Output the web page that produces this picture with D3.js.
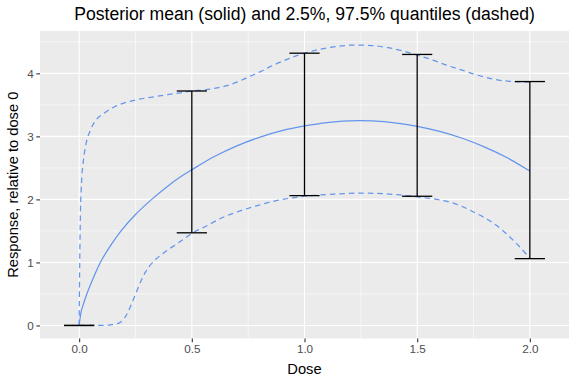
<!DOCTYPE html>
<html>
<head>
<meta charset="utf-8">
<script src="https://cdn.jsdelivr.net/npm/d3@7"></script>
<style>
  body { margin: 0; background: #fff; }
  svg { display: block; font-family: "Liberation Sans", Arial, sans-serif; }
</style>
</head>
<body>
<div id="chart"></div>
<script>
// DATA
const titleText = "Posterior mean (solid) and 2.5%, 97.5% quantiles (dashed)";
const xTicks = [0, 0.5, 1, 1.5, 2];
const yTicks = [0, 1, 2, 3, 4];

// posterior mean curve
const meanDose = [0, 0.009, 0.02, 0.034, 0.06, 0.094, 0.14, 0.186, 0.25, 0.322, 0.4, 0.45, 0.5, 0.6, 0.7, 0.8, 0.9, 1.0, 1.1, 1.2, 1.25, 1.3, 1.4, 1.5, 1.6, 1.7, 1.8, 1.9, 2.0];
const meanResp = [0, 0.22, 0.35, 0.5, 0.73, 1.0, 1.27, 1.5, 1.76, 2.0, 2.23, 2.36, 2.47, 2.68, 2.85, 2.985, 3.09, 3.165, 3.22, 3.246, 3.25, 3.245, 3.215, 3.16, 3.08, 2.97, 2.83, 2.66, 2.45];

// 2.5% quantile
const lowDose = [0, 0.06, 0.1, 0.14, 0.171, 0.2, 0.215, 0.23, 0.253, 0.275, 0.295, 0.312, 0.34, 0.364, 0.39, 0.423, 0.46, 0.5, 0.56, 0.641, 0.7, 0.789, 0.85, 0.937, 1.0, 1.114, 1.247, 1.425, 1.5, 1.602, 1.661, 1.75, 1.839, 1.927, 1.984, 2.0];
const lowResp = [0, 0, 0.002, 0.01, 0.03, 0.11, 0.2, 0.32, 0.52, 0.71, 0.85, 0.94, 1.05, 1.12, 1.19, 1.27, 1.36, 1.46, 1.57, 1.72, 1.80, 1.90, 1.96, 2.02, 2.05, 2.08, 2.10, 2.07, 2.04, 1.99, 1.94, 1.80, 1.62, 1.35, 1.13, 1.06];

// 97.5% quantile
const upDose = [0, 0.002, 0.004, 0.006, 0.009, 0.012, 0.019, 0.031, 0.05, 0.075, 0.112, 0.157, 0.208, 0.267, 0.334, 0.408, 0.467, 0.5, 0.55, 0.6, 0.65, 0.7, 0.75, 0.8, 0.85, 0.9, 0.95, 1.0, 1.06, 1.13, 1.23, 1.33, 1.42, 1.5, 1.57, 1.63, 1.7, 1.77, 1.85, 1.92, 2.0];
const upResp = [0, 0.8, 1.4, 1.85, 2.15, 2.36, 2.62, 2.89, 3.10, 3.26, 3.37, 3.47, 3.54, 3.59, 3.63, 3.67, 3.70, 3.72, 3.735, 3.76, 3.80, 3.86, 3.94, 4.02, 4.11, 4.19, 4.26, 4.32, 4.375, 4.42, 4.45, 4.43, 4.37, 4.29, 4.21, 4.13, 4.05, 3.97, 3.90, 3.87, 3.86];

// error bars at observed doses
const barDose  = [0, 0.5, 1, 1.5, 2];
const barLower = [0, 1.47, 2.06, 2.05, 1.06];
const barUpper = [0, 3.72, 4.32, 4.30, 3.87];
const barHalfWidth = 0.067;

// LAYOUT
const width  = 576;
const height = 384;
const panel  = { left: 40, right: 569, top: 31, bottom: 338.5 };
const curveColor = "#6495ED";

function expand(lo, hi) {
    const pad = (hi - lo) * 0.05;
    return [lo - pad, hi + pad];
}

function render() {
    const x = d3.scaleLinear()
        .domain(expand(d3.min(barDose) - barHalfWidth, d3.max(barDose) + barHalfWidth))
        .range([panel.left, panel.right]);
    const y = d3.scaleLinear()
        .domain([-0.207, 4.672])
        .range([panel.bottom, panel.top]);

    const svg = d3.select('#chart').append('svg')
        .attr('width', width)
        .attr('height', height);

    svg.append('rect')
        .attr('x', panel.left).attr('y', panel.top)
        .attr('width', panel.right - panel.left)
        .attr('height', panel.bottom - panel.top)
        .attr('fill', '#EBEBEB');

    // grid
    const grid = svg.append('g');
    const xMinor = d3.range(-0.25, 2.3, 0.5).filter(d => x(d) > panel.left && x(d) < panel.right);
    const yMinor = d3.range(-0.5, 4.7, 1).filter(d => y(d) < panel.bottom && y(d) > panel.top);

    grid.selectAll('line.xminor').data(xMinor).enter().append('line')
        .attr('x1', d => x(d)).attr('x2', d => x(d))
        .attr('y1', panel.top).attr('y2', panel.bottom)
        .attr('stroke', '#fff').attr('stroke-width', 0.55);
    grid.selectAll('line.yminor').data(yMinor).enter().append('line')
        .attr('y1', d => y(d)).attr('y2', d => y(d))
        .attr('x1', panel.left).attr('x2', panel.right)
        .attr('stroke', '#fff').attr('stroke-width', 0.55);
    grid.selectAll('line.xmajor').data(xTicks).enter().append('line')
        .attr('x1', d => x(d)).attr('x2', d => x(d))
        .attr('y1', panel.top).attr('y2', panel.bottom)
        .attr('stroke', '#fff').attr('stroke-width', 1.1);
    grid.selectAll('line.ymajor').data(yTicks).enter().append('line')
        .attr('y1', d => y(d)).attr('y2', d => y(d))
        .attr('x1', panel.left).attr('x2', panel.right)
        .attr('stroke', '#fff').attr('stroke-width', 1.1);

    // curves
    const smoothLine = d3.line()
        .x(d => x(d[0]))
        .y(d => y(d[1]))
        .curve(d3.curveCatmullRom.alpha(0.5));
    const monoLine = d3.line()
        .x(d => x(d[0]))
        .y(d => y(d[1]))
        .curve(d3.curveMonotoneX);

    const series = [
        { pts: d3.zip(meanDose, meanResp), dash: null, gen: smoothLine },
        { pts: d3.zip(lowDose, lowResp), dash: '5.5,4', gen: monoLine },
        { pts: d3.zip(upDose, upResp), dash: '5.5,4', gen: monoLine }
    ];

    svg.append('g').selectAll('path').data(series).enter().append('path')
        .attr('d', d => d.gen(d.pts))
        .attr('fill', 'none')
        .attr('stroke', curveColor)
        .attr('stroke-width', 1.25)
        .attr('stroke-dasharray', d => d.dash);

    // error bars
    const bars = svg.append('g')
        .selectAll('g')
        .data(d3.range(barDose.length))
        .enter().append('g')
        .attr('stroke', '#000')
        .attr('stroke-width', 1.3);

    bars.append('line')
        .attr('x1', i => x(barDose[i])).attr('x2', i => x(barDose[i]))
        .attr('y1', i => y(barLower[i])).attr('y2', i => y(barUpper[i]));
    bars.append('line')
        .attr('x1', i => x(barDose[i] - barHalfWidth)).attr('x2', i => x(barDose[i] + barHalfWidth))
        .attr('y1', i => y(barLower[i])).attr('y2', i => y(barLower[i]));
    bars.append('line')
        .attr('x1', i => x(barDose[i] - barHalfWidth)).attr('x2', i => x(barDose[i] + barHalfWidth))
        .attr('y1', i => y(barUpper[i])).attr('y2', i => y(barUpper[i]));

    // axes
    const xAxis = svg.append('g')
        .attr('transform', `translate(0,${panel.bottom})`)
        .call(d3.axisBottom(x).tickValues(xTicks).tickFormat(d3.format('.1f')).tickSize(3.7).tickPadding(2.5));
    const yAxis = svg.append('g')
        .attr('transform', `translate(${panel.left},0)`)
        .call(d3.axisLeft(y).tickValues(yTicks).tickFormat(d3.format('d')).tickSize(3.7).tickPadding(2.5));

    [xAxis, yAxis].forEach(ax => {
        ax.select('.domain').remove();
        ax.selectAll('line').attr('stroke', '#333333').attr('stroke-width', 1.1);
        ax.selectAll('text')
            .attr('fill', '#4D4D4D')
            .style('font-size', '11.7px')
            .style('font-family', '"Liberation Sans", Arial, sans-serif');
    });

    // titles
    const cx = (panel.left + panel.right) / 2;
    svg.append('text')
        .attr('x', cx).attr('y', 20)
        .attr('text-anchor', 'middle')
        .style('font-size', '17.6px')
        .text(titleText);

    svg.append('text')
        .attr('x', cx).attr('y', 373.5)
        .attr('text-anchor', 'middle')
        .style('font-size', '14.7px')
        .text('Dose');

    svg.append('text')
        .attr('transform', `translate(17.5,${(panel.top + panel.bottom) / 2}) rotate(-90)`)
        .attr('text-anchor', 'middle')
        .style('font-size', '14.7px')
        .text('Response, relative to dose 0');
}

window.onload = render;
</script>
</body>
</html>
